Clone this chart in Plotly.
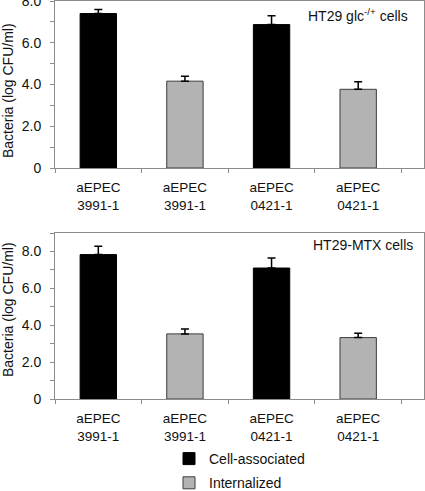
import plotly.graph_objects as go

# ---- data ----
categories = ["aEPEC<br>3991-1", "aEPEC<br>3991-1", "aEPEC<br>0421-1", "aEPEC<br>0421-1"]
series_names = ["Cell-associated", "Internalized"]

# top panel: HT29 glc-/+ cells
top_cell = [7.40, 6.87]
top_cell_err = [0.19, 0.42]
top_int = [4.16, 3.77]
top_int_err = [0.24, 0.36]

# bottom panel: HT29-MTX cells
bot_cell = [7.83, 7.10]
bot_cell_err = [0.45, 0.54]
bot_int = [3.53, 3.33]
bot_int_err = [0.26, 0.24]

ytick_vals = [0, 2, 4, 6, 8]
ytick_text = ["0", "2.0", "4.0", "6.0", "8.0"]
panel_titles = ["HT29 glc<sup>-/+</sup> cells", "HT29-MTX cells"]
y_title = "Bacteria (log CFU/ml)"

cell_x = [0, 2]
int_x = [1, 3]

FONT = "Liberation Sans, Arial, sans-serif"
BLACK = "#000000"
GRAY = "#b3b3b3"
FRAME = "#8c8c8c"

fig = go.Figure()

def add_pair(cell, cell_err, inte, inte_err, xa, ya, show):
    fig.add_trace(go.Bar(
        x=cell_x, y=cell, width=0.42, name=series_names[0],
        marker=dict(color=BLACK, line=dict(color="#000000", width=1)),
        error_y=dict(type="data", array=cell_err, symmetric=False, arrayminus=[0, 0],
                     color="black", thickness=1.5, width=4),
        xaxis=xa, yaxis=ya, showlegend=show, legendgroup="g1",
    ))
    fig.add_trace(go.Bar(
        x=int_x, y=inte, width=0.42, name=series_names[1],
        marker=dict(color=GRAY, line=dict(color="#3c3c3c", width=1)),
        error_y=dict(type="data", array=inte_err, symmetric=False, arrayminus=[0, 0],
                     color="black", thickness=1.5, width=4),
        xaxis=xa, yaxis=ya, showlegend=show, legendgroup="g2",
    ))

add_pair(top_cell, top_cell_err, top_int, top_int_err, "x2", "y2", True)
add_pair(bot_cell, bot_cell_err, bot_int, bot_int_err, "x", "y", False)

W, H = 425, 491
ml, mr, mt, mb = 55, 1, 1, 0
ph = H - mt - mb

def py(pix):
    return (H - mb - pix) / ph

def px(pix):
    return (pix - ml) / (W - ml - mr)

xcommon = dict(
    range=[-0.5, 3.76], tickmode="array", tickvals=[0, 1, 2, 3], ticktext=categories,
    ticks="", showline=True, linecolor=FRAME, linewidth=1, mirror=True,
    showgrid=False, zeroline=False, tickfont=dict(family=FONT, size=13.5, color="#111"),
    ticklabelstandoff=7, ticklabeloverflow="allow", automargin=False,
    minor=dict(tickmode="array", tickvals=[-0.5, 0.5, 1.5, 2.5, 3.5], ticks="outside",
               ticklen=4, tickcolor=FRAME, showgrid=False),
)
ycommon = dict(
    tickmode="array", tickvals=ytick_vals, ticktext=ytick_text,
    ticks="outside", ticklen=4, tickcolor=FRAME,
    showline=True, linecolor=FRAME, linewidth=1, mirror=True,
    showgrid=False, zeroline=False, tickfont=dict(family=FONT, size=14, color="#111"),
    ticklabelstandoff=6, ticklabeloverflow="allow", automargin=False,
)

fig.update_layout(
    template="none",
    width=W, height=H,
    margin=dict(l=ml, r=mr, t=mt, b=mb, autoexpand=False),
    paper_bgcolor="white", plot_bgcolor="white",
    barmode="overlay",
    font=dict(family=FONT, size=14, color="#111"),
    xaxis=dict(domain=[0, 1], anchor="y", **xcommon),
    yaxis=dict(domain=[py(399), py(233)], range=[0, 9], anchor="x",
               minor=dict(tickmode="array", tickvals=[1, 3, 5, 7, 9], ticks="outside",
                          ticklen=4, tickcolor=FRAME, showgrid=False),
               **ycommon),
    xaxis2=dict(domain=[0, 1], anchor="y2", **xcommon),
    yaxis2=dict(domain=[py(168), 1], range=[0, 8], anchor="x2",
                minor=dict(tickmode="array", tickvals=[1, 3, 5, 7], ticks="outside",
                           ticklen=4, tickcolor=FRAME, showgrid=False),
                **ycommon),
    legend=dict(x=px(169), xanchor="left", y=py(443), yanchor="top",
                traceorder="grouped", tracegroupgap=3,
                font=dict(family=FONT, size=14, color="#111"),
                bgcolor="rgba(0,0,0,0)"),
    showlegend=True,
)

fig.add_annotation(text=panel_titles[0], xref="paper", yref="paper",
                   x=px(410), y=py(15), xanchor="right", yanchor="middle",
                   showarrow=False, font=dict(family=FONT, size=14, color="#111"))
fig.add_annotation(text=panel_titles[1], xref="paper", yref="paper",
                   x=px(415), y=py(245), xanchor="right", yanchor="middle",
                   showarrow=False, font=dict(family=FONT, size=14, color="#111"))
for yc in (91, 310):
    fig.add_annotation(text=y_title, xref="paper", yref="paper",
                       x=px(8), y=py(yc), xanchor="center", yanchor="middle",
                       textangle=-90, showarrow=False,
                       font=dict(family=FONT, size=14, color="#111"))

fig.write_html(
    "out.html",
    config={"displayModeBar": False},
    post_script="document.body.style.margin='0';document.body.style.overflow='hidden';",
)
